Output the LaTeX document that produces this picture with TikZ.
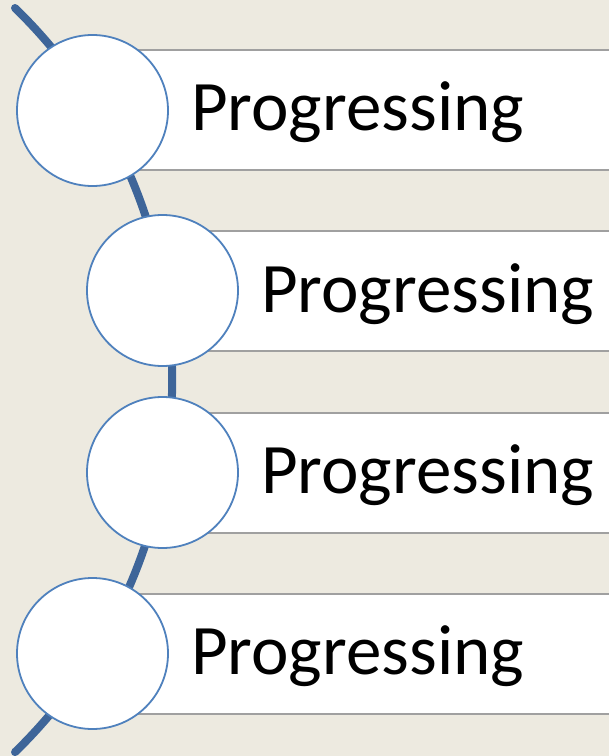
\documentclass[tikz,border=0pt]{standalone}
\usepackage{fontspec}
\setmainfont{Carlito}
\definecolor{paper}{RGB}{237,234,224}
\definecolor{swoosh}{RGB}{62,101,153}
\definecolor{ringblue}{RGB}{79,129,189}
\definecolor{bargray}{RGB}{160,160,160}
\tikzset{
  stepring/.style={circle, draw=ringblue, line width=1.8pt, fill=white,
    minimum size=151pt, inner sep=0pt},
  stepbar/.style={draw=bargray, line width=1.2pt, fill=white},
  steptext/.style={anchor=base west, inner sep=0pt,
    font=\fontsize{71}{85}\selectfont},
}

\begin{document}
\begin{tikzpicture}[x=1pt,y=-1pt]
  \useasboundingbox[fill=paper] (0,0) rectangle (609,756);
  \clip (0,0) rectangle (609,756);
  % bars
  \draw[stepbar] (92,50) rectangle (620,170);
  \draw[stepbar] (162,231) rectangle (620,351);
  \draw[stepbar] (162,413) rectangle (620,533);
  \draw[stepbar] (92,594) rectangle (620,714);
  % swoosh
  \coordinate (top) at (15,8);
  \coordinate (bot) at (15,752);
  \draw[swoosh, line width=8pt, line cap=round] (top) arc[start angle=-45.8, end angle=45.8, radius=519];
  % rings
  \node[stepring] (r1) at (92.5,110.5) {};
  \node[stepring] (r2) at (162.5,290.5) {};
  \node[stepring] (r3) at (162.5,472.5) {};
  \node[stepring] (r4) at (92.5,653.5) {};
  % labels
  \node[steptext] (t1) at (191,130) {Progressing};
  \node[steptext] (t2) at (261,312) {Progressing};
  \node[steptext] (t3) at (261,493) {Progressing};
  \node[steptext] (t4) at (191,674) {Progressing};
\end{tikzpicture}
\end{document}
